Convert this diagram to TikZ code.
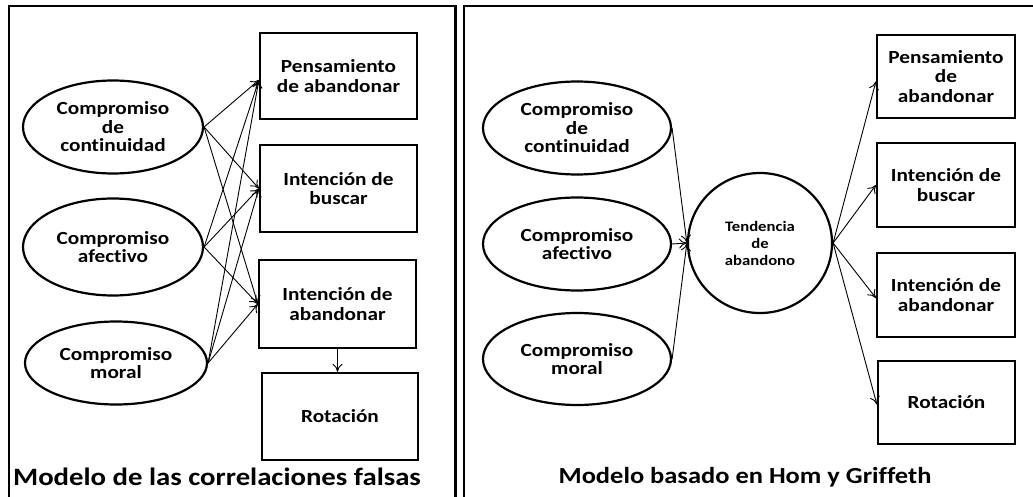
\documentclass[tikz,border=0pt]{standalone}
\usepackage{fontspec}
\setmainfont{Carlito}[FakeStretch=1.15, Ligatures=NoCommon]
\usetikzlibrary{shapes.geometric,arrows.meta}
\tikzset{
  frame/.style={draw, line width=2.4pt},
  oval/.style={ellipse, draw, line width=2.2pt, align=center, inner sep=0pt, font=\fontsize{18.5}{18.5}\selectfont\bfseries},
  box/.style={rectangle, draw, line width=2.2pt, align=center, inner sep=0pt, font=\fontsize{18.5}{19.5}\selectfont\bfseries},
  link/.style={line width=0.9pt, -{To[length=8pt,width=10pt]}},
  caption/.style={font=\fontsize{25}{28}\selectfont\bfseries}
}
\begin{document}
\begin{tikzpicture}[x=1pt,y=-1pt]
\useasboundingbox (0,0) rectangle (1033,497);
% frames
\draw[frame] (9,6) rectangle (455.5,510);
\draw[frame] (464,6) rectangle (1045,510);
% left panel
\node[oval, minimum width=180pt, minimum height=93pt] (lc) at (113,127) {Compromiso\\de\\continuidad};
\node[oval, minimum width=180pt, minimum height=97pt] (la) at (113,247) {Compromiso\\afectivo};
\node[oval, minimum width=182pt, minimum height=83pt] (lm) at (116,363) {Compromiso\\moral};
\node[box, minimum width=157pt, minimum height=86pt] (lp) at (338.5,76) {Pensamiento\\de abandonar};
\node[box, minimum width=157pt, minimum height=87pt] (lb) at (338.5,188.5) {Intención de\\buscar};
\node[box, minimum width=157pt, minimum height=88pt] (lab) at (337.5,304) {Intención de\\abandonar};
\node[box, minimum width=156pt, minimum height=87pt] (lr) at (340,416.5) {Rotación};
\node[caption] (lt) at (217,477) {Modelo de las correlaciones falsas};
\foreach \s in {lc,la,lm}{
  \draw[link] (\s.east) -- ([yshift=-4pt]lp.west);
  \draw[link] (\s.east) -- (lb.west);
  \draw[link] (\s.east) -- (lab.west);
}
\draw[link] (lab.south) -- (lab.south |- lr.north);
% right panel
\node[oval, minimum width=188pt, minimum height=93pt] (rc) at (577,128) {Compromiso\\de\\continuidad};
\node[oval, minimum width=188pt, minimum height=93pt] (ra) at (577,244) {Compromiso\\afectivo};
\node[oval, minimum width=188pt, minimum height=92pt] (rm) at (577,359) {Compromiso\\moral};
\node[oval, minimum width=144pt, minimum height=140pt, font=\fontsize{14.5}{17}\selectfont\bfseries] (rt) at (760,243) {Tendencia\\de\\abandono};
\node[box, minimum width=138pt, minimum height=83pt] (rp) at (946,76.5) {Pensamiento\\de\\abandonar};
\node[box, minimum width=138pt, minimum height=84pt] (rb) at (946,185) {Intención de\\buscar};
\node[box, minimum width=138pt, minimum height=84pt] (rab) at (946,295) {Intención de\\abandonar};
\node[box, minimum width=137pt, minimum height=83pt] (rr) at (946.5,402.5) {Rotación};
\node[caption, font=\fontsize{23}{26}\selectfont\bfseries] (rtl) at (745,477) {Modelo basado en Hom y Griffeth};
\foreach \s in {rc,ra,rm}{
  \draw[link] (\s.east) -- (rt.west);
}
\draw[link] (rt.east) -- ([yshift=-5pt]rp.west);
\draw[link] (rt.east) -- (rb.west);
\draw[link] (rt.east) -- ([yshift=-3pt]rab.west);
\draw[link] (rt.east) -- ([yshift=-2pt]rr.west);
\end{tikzpicture}
\end{document}
